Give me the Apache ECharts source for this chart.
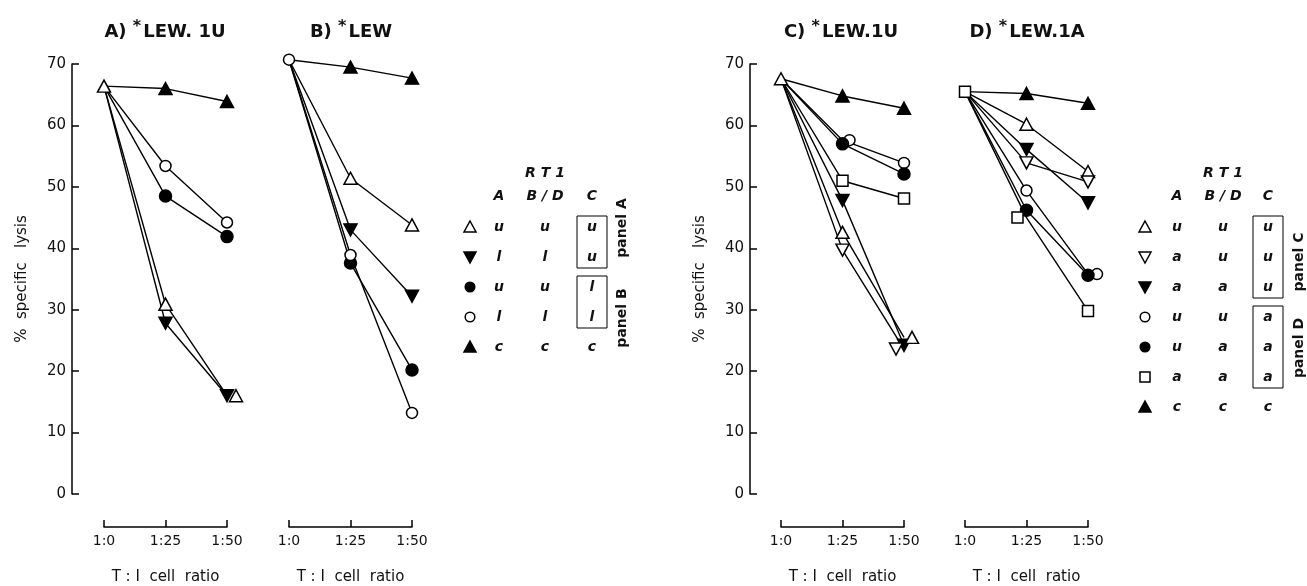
<!DOCTYPE html>
<html lang="en">
<head>
    <meta charset="UTF-8">
    <title>% specific lysis</title>
    <script src="https://cdn.jsdelivr.net/npm/echarts@6/dist/echarts.min.js"></script>
    <style type="text/css">
        *{ margin: 0; padding: 0; }
        body{ background: #fff; }
        #chart{ width: 1307px; height: 586px; }
    </style>
</head>
<body>
<div id="chart"></div>
<script>
    // T:I ratios
    var cats = ['1:0', '1:25', '1:50'];

    // panel A (*LEW.1U)
    var aUUU = [66.4, 30.9, 16.0];
    var aLLU = [66.4, 27.8, 16.0];
    var aUUL = [66.4, 48.5, 41.9];
    var aLLL = [66.4, 53.4, 44.2];
    var aCCC = [66.4, 66.0, 63.9];

    // panel B (*LEW)
    var bUUU = [70.7, 51.4, 43.8];
    var bLLU = [70.7, 43.0, 32.2];
    var bUUL = [70.7, 37.6, 20.2];
    var bLLL = [70.7, 38.9, 13.2];
    var bCCC = [70.7, 69.5, 67.7];

    // panel C (*LEW.1U)
    var cUUU = [67.6, 42.6, 25.5];
    var cAUU = [67.6, 39.7, 23.6];
    var cAAU = [67.6, 47.8, 24.2];
    var cUUA = [67.6, 57.6, 53.9];
    var cUAA = [67.6, 57.0, 52.1];
    var cAAA = [67.6, 51.0, 48.1];
    var cCCC = [67.6, 64.8, 62.8];

    // panel D (*LEW.1A)
    var dUUU = [65.5, 60.2, 52.5];
    var dAUU = [65.5, 53.9, 50.8];
    var dAAU = [65.5, 56.1, 47.4];
    var dUUA = [65.5, 49.4, 35.8];
    var dUAA = [65.5, 46.2, 35.6];
    var dAAA = [65.5, 45.0, 29.8];
    var dCCC = [65.5, 65.2, 63.6];

    var titles = ['A) ', 'B) ', 'C) ', 'D) '];
    var titleStrains = ['LEW. 1U', 'LEW', 'LEW.1U', 'LEW.1A'];

    // legend tables: marker, A, B/D, C
    var legendAB = [
        ['triUp', 'u', 'u', 'u'],
        ['triDownF', 'l', 'l', 'u'],
        ['circleF', 'u', 'u', 'l'],
        ['circle', 'l', 'l', 'l'],
        ['triUpF', 'c', 'c', 'c']
    ];
    var legendCD = [
        ['triUp', 'u', 'u', 'u'],
        ['triDown', 'a', 'u', 'u'],
        ['triDownF', 'a', 'a', 'u'],
        ['circle', 'u', 'u', 'a'],
        ['circleF', 'u', 'a', 'a'],
        ['square', 'a', 'a', 'a'],
        ['triUpF', 'c', 'c', 'c']
    ];

    var FONT = 'DejaVu Sans';

    // marker look
    var marks = {
        triUp:    { symbol: 'triangle', size: [13, 12], rot: 0, fill: false },
        triUpF:   { symbol: 'triangle', size: [13, 12], rot: 0, fill: true },
        triDown:  { symbol: 'triangle', size: [13, 12], rot: 180, fill: false },
        triDownF: { symbol: 'triangle', size: [13, 12], rot: 180, fill: true },
        circle:   { symbol: 'circle', size: 11, rot: 0, fill: false },
        circleF:  { symbol: 'circle', size: 12, rot: 0, fill: true },
        square:   { symbol: 'rect', size: 11, rot: 0, fill: false }
    };

    // small sideways nudge of overlapping markers (px), by category index
    function line(idx, data, mk, showFirst, nudge) {
        var m = marks[mk];
        nudge = nudge || {};
        return {
            type: 'line',
            xAxisIndex: idx,
            yAxisIndex: idx,
            clip: false,
            data: data.map(function (v, i) {
                if (i === 0 && !showFirst) return { value: v, symbol: 'none' };
                if (nudge[i]) return { value: v, symbolOffset: [nudge[i], 0] };
                return v;
            }),
            symbol: m.symbol,
            symbolSize: m.size,
            symbolRotate: m.rot,
            showAllSymbol: true,
            z: showFirst ? 5 : 3,
            itemStyle: { color: m.fill ? '#000' : '#fff', borderColor: '#000', borderWidth: 1.5, opacity: 1 },
            lineStyle: { color: '#000', width: 1.4 },
            emphasis: { disabled: true }
        };
    }

    var gridLeft = [104, 289, 781, 965];
    var grids = [], xAxes = [], yAxes = [];
    for (var i = 0; i < 4; i++) {
        grids.push({ left: gridLeft[i], width: 123, top: 64, height: 430, outerBoundsMode: 'none', containLabel: false });
        xAxes.push({
            type: 'category', gridIndex: i, data: cats, boundaryGap: false,
            offset: 33,
            axisLine: { onZero: false, lineStyle: { color: '#000', width: 1.5 } },
            axisTick: { inside: true, length: 7, interval: 0, lineStyle: { color: '#000', width: 1.5 } },
            axisLabel: { color: '#111', fontFamily: FONT, fontSize: 14, margin: 7, interval: 0 },
            name: 'T : I  cell  ratio', nameLocation: 'middle', nameGap: 43,
            nameTextStyle: { color: '#111', fontFamily: FONT, fontSize: 15 },
            splitLine: { show: false }
        });
        var showY = (i === 0 || i === 2);
        yAxes.push({
            type: 'value', gridIndex: i, min: 0, max: 70, interval: 10,
            show: showY, offset: i === 0 ? 32 : 31,
            axisLine: { show: true, lineStyle: { color: '#000', width: 1.5 } },
            axisTick: { show: true, inside: true, length: 7, lineStyle: { color: '#000', width: 1.5 } },
            axisLabel: { color: '#111', fontFamily: FONT, fontSize: 15, margin: 6 },
            splitLine: { show: false },
            name: '%  specific   lysis', nameLocation: 'middle', nameGap: 42,
            nameTextStyle: { color: '#111', fontFamily: FONT, fontSize: 15 }
        });
    }

    var series = [
        line(0, aCCC, 'triUpF', false),
        line(0, aLLL, 'circle', false),
        line(0, aUUL, 'circleF', false),
        line(0, aLLU, 'triDownF', false),
        line(0, aUUU, 'triUp', true, { 2: 9 }),

        line(1, bCCC, 'triUpF', false),
        line(1, bUUU, 'triUp', false),
        line(1, bLLU, 'triDownF', false),
        line(1, bUUL, 'circleF', false),
        line(1, bLLL, 'circle', true),

        line(2, cCCC, 'triUpF', false),
        line(2, cUUA, 'circle', false, { 1: 7 }),
        line(2, cUAA, 'circleF', false),
        line(2, cAAA, 'square', false),
        line(2, cAAU, 'triDownF', false),
        line(2, cAUU, 'triDown', false, { 2: -8 }),
        line(2, cUUU, 'triUp', true, { 2: 8 }),

        line(3, dCCC, 'triUpF', false),
        line(3, dUUU, 'triUp', false),
        line(3, dAAU, 'triDownF', false),
        line(3, dAUU, 'triDown', false),
        line(3, dUUA, 'circle', false, { 2: 9 }),
        line(3, dUAA, 'circleF', false),
        line(3, dAAA, 'square', true, { 1: -9 })
    ];

    // panel titles
    var titleX = [160, 346, 836, 1022];
    var title = titles.map(function (t, i) {
        return {
            text: '{n|' + t + '}{s|*}{n|' + titleStrains[i] + '}',
            left: titleX[i], top: 14, textAlign: 'center',
            textStyle: {
                rich: {
                    n: { fontFamily: FONT, fontSize: 18, fontWeight: 'bold', color: '#111', verticalAlign: 'bottom', lineHeight: 22 },
                    s: { fontFamily: FONT, fontSize: 16, fontWeight: 'bold', color: '#111', verticalAlign: 'top', lineHeight: 22, padding: [0, 2, 6, 0] }
                }
            }
        };
    });

    // legend glyph as graphic
    function glyph(mk, cx, cy) {
        var m = marks[mk];
        var st = { fill: m.fill ? '#000' : '#fff', stroke: '#000', lineWidth: 1.5 };
        if (m.symbol === 'circle') return { type: 'circle', shape: { cx: cx, cy: cy, r: 4.8 }, style: st };
        if (m.symbol === 'rect') return { type: 'rect', shape: { x: cx - 5, y: cy - 5, width: 10, height: 10 }, style: st };
        var pts = m.rot ? [[cx - 6, cy - 5], [cx + 6, cy - 5], [cx, cy + 6]] : [[cx - 6, cy + 5], [cx + 6, cy + 5], [cx, cy - 6]];
        return { type: 'polygon', shape: { points: pts }, style: st };
    }

    function txt(s, x, y, opt) {
        opt = opt || {};
        return {
            type: 'text', x: x, y: y, rotation: opt.rot || 0,
            style: {
                text: s, fill: '#111', fontFamily: FONT,
                fontSize: opt.size || 14, fontStyle: opt.italic ? 'italic' : 'normal',
                fontWeight: opt.bold ? 'bold' : 'normal',
                align: 'center', verticalAlign: 'middle'
            }
        };
    }

    // boxes: [first row, last row, label, label centre y]
    function legendTable(rows, sx, colA, colBD, colC, y0, step, boxes, panelX) {
        var out = [];
        out.push(txt('R T 1', colBD, y0 - 54, { italic: true, bold: true }));
        out.push(txt('A', colA, y0 - 31, { italic: true, bold: true }));
        out.push(txt('B / D', colBD, y0 - 31, { italic: true, bold: true }));
        out.push(txt('C', colC, y0 - 31, { italic: true, bold: true }));
        rows.forEach(function (r, k) {
            var y = y0 + k * step;
            out.push(glyph(r[0], sx, y));
            out.push(txt(r[1], colA, y, { italic: true, bold: true }));
            out.push(txt(r[2], colBD, y, { italic: true, bold: true }));
            out.push(txt(r[3], colC, y, { italic: true, bold: true }));
        });
        boxes.forEach(function (b) {
            var top = y0 + b[0] * step - 11, bot = y0 + b[1] * step + 11;
            out.push({ type: 'rect', shape: { x: colC - 15, y: top, width: 30, height: bot - top },
                style: { fill: 'none', stroke: '#000', lineWidth: 1 } });
            out.push(txt(b[2], panelX, b[3], { rot: Math.PI / 2, bold: true }));
        });
        return out;
    }

    var graphics = []
        .concat(legendTable(legendAB, 470, 499, 545, 592, 227, 30,
            [[0, 1, 'panel A', 228], [2, 3, 'panel B', 318]], 622))
        .concat(legendTable(legendCD, 1145, 1177, 1223, 1268, 227, 30,
            [[0, 2, 'panel C', 262], [3, 5, 'panel D', 348]], 1299));

    var myChart = echarts.init(document.getElementById('chart'));
    var option = {
        animation: false,
        backgroundColor: '#fff',
        title: title,
        grid: grids,
        xAxis: xAxes,
        yAxis: yAxes,
        series: series,
        graphic: graphics
    };
    myChart.setOption(option);
</script>
</body>
</html>
